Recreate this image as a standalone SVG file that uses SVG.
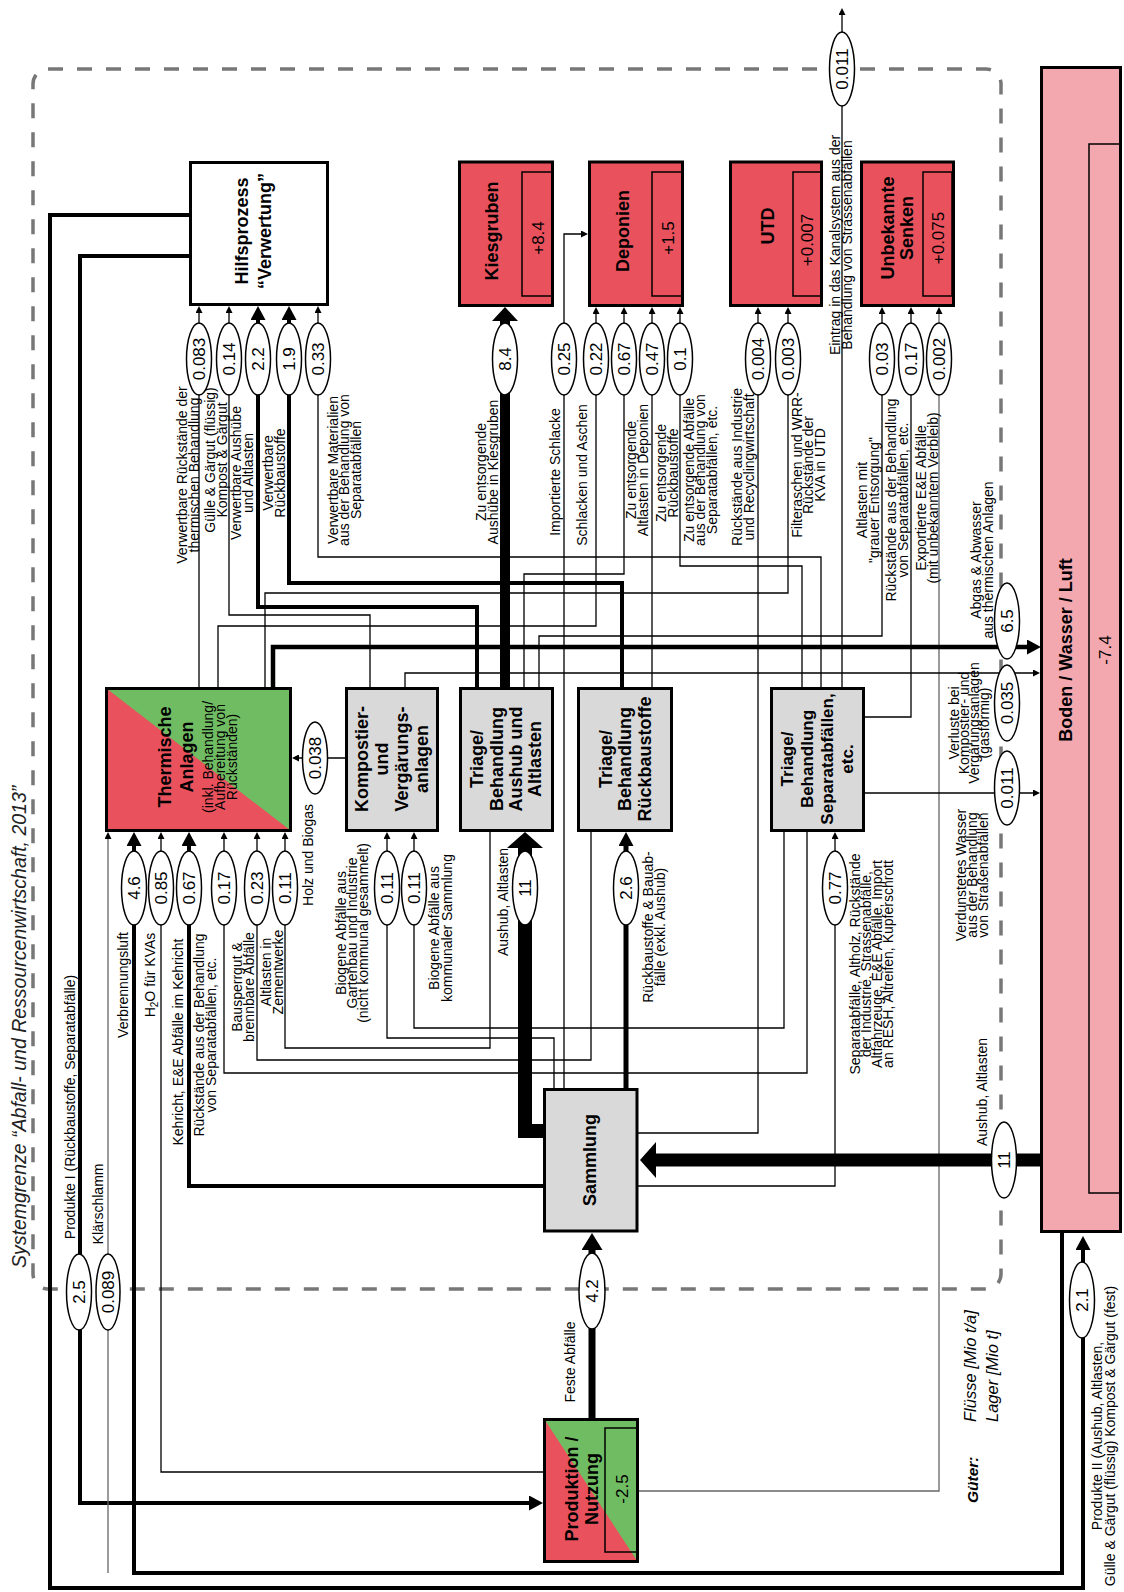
<svg xmlns="http://www.w3.org/2000/svg" width="1124" height="1592" viewBox="0 0 1124 1592">
<style>
text,tspan{font-family:"Liberation Sans",Arial,sans-serif;dominant-baseline:central}
.lb{font-size:14px;text-anchor:middle}
.nv{font-size:17px;text-anchor:middle}
.nd{font-size:18px;font-weight:bold;text-anchor:middle}
.it{font-style:italic;font-size:16.5px}
.t{stroke:#000;stroke-width:1.3;fill:none}
.tg{stroke:#666;stroke-width:1.3;fill:none}
.m{stroke:#000;stroke-width:4;fill:none}
.box{stroke:#000;stroke-width:3}
.inner{fill:none;stroke:#000;stroke-width:1.5}
.red{fill:#E9525D}
.grn{fill:#70BC63}
.gry{fill:#D9D9D9}
.pink{fill:#F3A7AE}
.fv ellipse{fill:#fff;stroke:#000;stroke-width:1.5}
</style>
<defs>
<marker id="as" markerUnits="userSpaceOnUse" markerWidth="7" markerHeight="7" refX="0" refY="3.5" orient="auto"><path d="M0,0L7,3.5L0,7z"/></marker>
<marker id="am" markerUnits="userSpaceOnUse" markerWidth="14" markerHeight="15" refX="0" refY="7.5" orient="auto"><path d="M0,0L14,7.5L0,15z"/></marker>
<marker id="a42" markerUnits="userSpaceOnUse" markerWidth="17" markerHeight="21" refX="0" refY="10.5" orient="auto"><path d="M0,0L17,10.5L0,21z"/></marker>
<marker id="al" markerUnits="userSpaceOnUse" markerWidth="14" markerHeight="26" refX="0" refY="13" orient="auto"><path d="M0,0L14,13L0,26z"/></marker>
<marker id="ax" markerUnits="userSpaceOnUse" markerWidth="16" markerHeight="36" refX="0" refY="18" orient="auto"><path d="M0,0L16,18L0,36z"/></marker>
</defs>
<rect width="1124" height="1592" fill="#fff"/>
<rect id="systemgrenze" x="33" y="69" width="968" height="1220" rx="15" fill="none" stroke="#777" stroke-width="3.5" stroke-dasharray="15 14"/>
<text fill="#222" transform="translate(19,1268) rotate(-90)" style="font-style:italic;font-size:19.5px">Systemgrenze “Abfall- und Ressourcenwirtschaft, 2013”</text>

<g id="connectors">
<path class="m" d="M189,215H50V1588H1083V1250" marker-end="url(#am)"/>
<path class="m" d="M189,256H80V1503H529" marker-end="url(#am)"/>
<path class="t" d="M199,687V313" marker-end="url(#as)"/>
<path class="t" d="M370,687V615H229V313" marker-end="url(#as)"/>
<path class="m" d="M477,687V607H258V320" marker-end="url(#am)"/>
<path class="m" d="M622,687V583H289V320" marker-end="url(#am)"/>
<path class="t" d="M821,687V557H318V313" marker-end="url(#as)"/>
<path d="M505,687V321" stroke="#000" stroke-width="10" fill="none" marker-end="url(#al)"/>
<path class="t" d="M564,1088V234H581" marker-end="url(#as)"/>
<path class="t" d="M218,687V626H596V314" marker-end="url(#as)"/>
<path class="t" d="M524,687V574H624V314" marker-end="url(#as)"/>
<path class="t" d="M652,687V314" marker-end="url(#as)"/>
<path class="t" d="M802,687V566H680V314" marker-end="url(#as)"/>
<path class="t" d="M638,1133H758V314" marker-end="url(#as)"/>
<path class="t" d="M265,687V593H788V314" marker-end="url(#as)"/>
<path class="t" d="M539,687V636H882V314" marker-end="url(#as)"/>
<path class="t" d="M865,717H911V314" marker-end="url(#as)"/>
<path class="tg" d="M639,1491H939V314" marker-end="url(#as)"/>
<path class="t" d="M842,687V15" marker-end="url(#as)"/>
<path d="M273,687V647H1027" stroke="#000" stroke-width="4.5" fill="none" marker-end="url(#am)"/>
<path class="t" d="M405,687V673H1033" marker-end="url(#as)"/>
<path class="t" d="M865,793H1033" marker-end="url(#as)"/>
<path d="M1040,1160H656" stroke="#000" stroke-width="13" fill="none" marker-end="url(#ax)"/>
<path d="M592,1418V1250" stroke="#000" stroke-width="7" fill="none" marker-end="url(#a42)"/>
<path d="M543,1131H525V848" stroke="#000" stroke-width="14" fill="none" marker-end="url(#ax)"/>
<path d="M626,1088V846" stroke="#000" stroke-width="5" fill="none" marker-end="url(#am)"/>
<path class="m" d="M543,1186H189V846" marker-end="url(#am)"/>
<path class="t" d="M638,1186H835V839" marker-end="url(#as)"/>
<path class="t" d="M554,1088V1038H387V839" marker-end="url(#as)"/>
<path class="t" d="M784,832V1028H414V839" marker-end="url(#as)"/>
<path class="m" d="M1062,1233V1573H134V846" marker-end="url(#am)"/>
<path class="t" d="M543,1472H161V839" marker-end="url(#as)"/>
<path class="t" d="M807,832V1073H224V839" marker-end="url(#as)"/>
<path class="t" d="M591,832V1060H257V839" marker-end="url(#as)"/>
<path class="t" d="M490,832V1048H285V839" marker-end="url(#as)"/>
<path class="tg" d="M108,1573V839" marker-end="url(#as)"/>
<path class="t" d="M345,758H299" marker-end="url(#as)"/>
</g>

<g id="hilfsprozess">
<rect class="box" x="190.5" y="162.5" width="137" height="142" fill="#fff"/>
<text class="nd" transform="translate(253,231) rotate(-90)"><tspan x="0" y="-11">Hilfsprozess</tspan><tspan x="0" y="12">“Verwertung”</tspan></text>
</g>
<g id="kiesgruben">
<rect class="box red" x="459.5" y="162" width="93" height="143.5"/>
<rect class="inner" x="522" y="172" width="30.5" height="124"/>
<text class="nd" transform="translate(492,231) rotate(-90)">Kiesgruben</text>
<text class="nv" transform="translate(538,238) rotate(-90)">+8.4</text>
</g>
<g id="deponien">
<rect class="box red" x="589.5" y="162" width="93" height="143.5"/>
<rect class="inner" x="652" y="172" width="30.5" height="124"/>
<text class="nd" transform="translate(623,231) rotate(-90)">Deponien</text>
<text class="nv" transform="translate(668,238) rotate(-90)">+1.5</text>
</g>
<g id="utd">
<rect class="box red" x="730.5" y="162" width="91" height="143.5"/>
<rect class="inner" x="793" y="172" width="28.5" height="124"/>
<text class="nd" transform="translate(768,226) rotate(-90)">UTD</text>
<text class="nv" transform="translate(807,240) rotate(-90)">+0.007</text>
</g>
<g id="unbekannte-senken">
<rect class="box red" x="861.5" y="162" width="92" height="143.5"/>
<rect class="inner" x="923" y="172" width="29" height="124"/>
<text class="nd" transform="translate(897,228) rotate(-90)"><tspan x="0" y="-9.5">Unbekannte</tspan><tspan x="0" y="9.5">Senken</tspan></text>
<text class="nv" transform="translate(938,238) rotate(-90)">+0.075</text>
</g>
<g id="boden-wasser-luft">
<rect class="box pink" x="1041.5" y="67.5" width="79" height="1164"/>
<rect class="inner" x="1089" y="144" width="31.5" height="1049"/>
<text class="nd" transform="translate(1066,650) rotate(-90)">Boden / Wasser / Luft</text>
<text class="nv" transform="translate(1105,650) rotate(-90)">-7.4</text>
</g>
<g id="thermische-anlagen">
<rect class="grn" x="106.5" y="688.5" width="184" height="142"/>
<path class="red" d="M106.5,688.5V830.5H290.5z"/>
<rect class="box" x="106.5" y="688.5" width="184" height="142" fill="none"/>
<text class="nd" transform="translate(198,757) rotate(-90)"><tspan x="0" y="-33">Thermische</tspan><tspan x="0" y="-11">Anlagen</tspan><tspan x="0" y="10" style="font-weight:normal;font-size:14px">(inkl. Behandlung/</tspan><tspan x="0" y="22" style="font-weight:normal;font-size:14px">Aufbereitung von</tspan><tspan x="0" y="34" style="font-weight:normal;font-size:14px">Rückständen)</tspan></text>
</g>
<g id="kompostier-vergaerungsanlagen">
<rect class="box gry" x="346.5" y="688.5" width="91" height="142"/>
<text class="nd" transform="translate(392,759) rotate(-90)"><tspan x="0" y="-30">Kompostier-</tspan><tspan x="0" y="-10">und</tspan><tspan x="0" y="10">Vergärungs-</tspan><tspan x="0" y="30">anlagen</tspan></text>
</g>
<g id="triage-aushub">
<rect class="box gry" x="460.5" y="688.5" width="92" height="142"/>
<text class="nd" transform="translate(506,759) rotate(-90)"><tspan x="0" y="-29">Triage/</tspan><tspan x="0" y="-9.5">Behandlung</tspan><tspan x="0" y="9.5">Aushub und</tspan><tspan x="0" y="29">Altlasten</tspan></text>
</g>
<g id="triage-rueckbaustoffe">
<rect class="box gry" x="578.5" y="688.5" width="93" height="142"/>
<text class="nd" transform="translate(625,759) rotate(-90)"><tspan x="0" y="-19.5">Triage/</tspan><tspan x="0" y="0">Behandlung</tspan><tspan x="0" y="19.5">Rückbaustoffe</tspan></text>
</g>
<g id="triage-separatabfaelle">
<rect class="box gry" x="771.5" y="688.5" width="92" height="142"/>
<text class="nd" transform="translate(817,759) rotate(-90)" style="font-size:17px"><tspan x="0" y="-30">Triage/</tspan><tspan x="0" y="-10">Behandlung</tspan><tspan x="0" y="10">Separatabfällen,</tspan><tspan x="0" y="30">etc.</tspan></text>
</g>
<g id="sammlung">
<rect class="box gry" x="544.5" y="1089.5" width="92.5" height="141.5"/>
<text class="nd" transform="translate(590,1160) rotate(-90)">Sammlung</text>
</g>
<g id="produktion-nutzung">
<rect class="grn" x="544.5" y="1419.5" width="93" height="142"/>
<path class="red" d="M544.5,1419.5V1561.5H637.5z"/>
<rect class="box" x="544.5" y="1419.5" width="93" height="142" fill="none"/>
<rect class="inner" x="605" y="1428" width="32" height="124"/>
<text class="nd" transform="translate(582,1489) rotate(-90)"><tspan x="0" y="-10">Produktion /</tspan><tspan x="0" y="10">Nutzung</tspan></text>
<text class="nv" transform="translate(622,1489) rotate(-90)">-2.5</text>
</g>

<g id="flow-values" class="fv">
<ellipse cx="199" cy="359" rx="12.5" ry="36"/><text class="nv" transform="translate(199,359) rotate(-90)">0.083</text>
<ellipse cx="229" cy="359" rx="12.5" ry="36"/><text class="nv" transform="translate(229,359) rotate(-90)">0.14</text>
<ellipse cx="258" cy="359" rx="12.5" ry="36"/><text class="nv" transform="translate(258,359) rotate(-90)">2.2</text>
<ellipse cx="289" cy="359" rx="12.5" ry="36"/><text class="nv" transform="translate(289,359) rotate(-90)">1.9</text>
<ellipse cx="318" cy="359" rx="12.5" ry="36"/><text class="nv" transform="translate(318,359) rotate(-90)">0.33</text>
<ellipse cx="505" cy="359" rx="12.5" ry="36"/><text class="nv" transform="translate(505,359) rotate(-90)">8.4</text>
<ellipse cx="564" cy="359" rx="12.5" ry="36"/><text class="nv" transform="translate(564,359) rotate(-90)">0.25</text>
<ellipse cx="596" cy="359" rx="12.5" ry="36"/><text class="nv" transform="translate(596,359) rotate(-90)">0.22</text>
<ellipse cx="624" cy="359" rx="12.5" ry="36"/><text class="nv" transform="translate(624,359) rotate(-90)">0.67</text>
<ellipse cx="652" cy="359" rx="12.5" ry="36"/><text class="nv" transform="translate(652,359) rotate(-90)">0.47</text>
<ellipse cx="680" cy="359" rx="12.5" ry="36"/><text class="nv" transform="translate(680,359) rotate(-90)">0.1</text>
<ellipse cx="758" cy="359" rx="12.5" ry="36"/><text class="nv" transform="translate(758,359) rotate(-90)">0.004</text>
<ellipse cx="788" cy="359" rx="12.5" ry="36"/><text class="nv" transform="translate(788,359) rotate(-90)">0.003</text>
<ellipse cx="882" cy="359" rx="12.5" ry="36"/><text class="nv" transform="translate(882,359) rotate(-90)">0.03</text>
<ellipse cx="911" cy="359" rx="12.5" ry="36"/><text class="nv" transform="translate(911,359) rotate(-90)">0.17</text>
<ellipse cx="939" cy="359" rx="12.5" ry="36"/><text class="nv" transform="translate(939,359) rotate(-90)">0.002</text>
<ellipse cx="842" cy="69" rx="12.5" ry="37"/><text class="nv" transform="translate(842,69) rotate(-90)">0.011</text>
<ellipse cx="134" cy="888" rx="12.5" ry="37"/><text class="nv" transform="translate(134,888) rotate(-90)">4.6</text>
<ellipse cx="161" cy="888" rx="12.5" ry="37"/><text class="nv" transform="translate(161,888) rotate(-90)">0.85</text>
<ellipse cx="189" cy="888" rx="12.5" ry="37"/><text class="nv" transform="translate(189,888) rotate(-90)">0.67</text>
<ellipse cx="224" cy="888" rx="12.5" ry="37"/><text class="nv" transform="translate(224,888) rotate(-90)">0.17</text>
<ellipse cx="257" cy="888" rx="12.5" ry="37"/><text class="nv" transform="translate(257,888) rotate(-90)">0.23</text>
<ellipse cx="285" cy="888" rx="12.5" ry="37"/><text class="nv" transform="translate(285,888) rotate(-90)">0.11</text>
<ellipse cx="387" cy="888" rx="12.5" ry="37"/><text class="nv" transform="translate(387,888) rotate(-90)">0.11</text>
<ellipse cx="414" cy="888" rx="12.5" ry="37"/><text class="nv" transform="translate(414,888) rotate(-90)">0.11</text>
<ellipse cx="525" cy="888" rx="12.5" ry="37"/><text class="nv" transform="translate(525,888) rotate(-90)">11</text>
<ellipse cx="626" cy="888" rx="12.5" ry="37"/><text class="nv" transform="translate(626,888) rotate(-90)">2.6</text>
<ellipse cx="835" cy="888" rx="12.5" ry="37"/><text class="nv" transform="translate(835,888) rotate(-90)">0.77</text>
<ellipse cx="315" cy="758" rx="12.5" ry="36"/><text class="nv" transform="translate(315,758) rotate(-90)">0.038</text>
<ellipse cx="1007" cy="621" rx="12.5" ry="38"/><text class="nv" transform="translate(1007,621) rotate(-90)">6.5</text>
<ellipse cx="1007" cy="703" rx="12.5" ry="38"/><text class="nv" transform="translate(1007,703) rotate(-90)">0.035</text>
<ellipse cx="1007" cy="788" rx="12.5" ry="37"/><text class="nv" transform="translate(1007,788) rotate(-90)">0.011</text>
<ellipse cx="1004" cy="1160" rx="12.5" ry="38"/><text class="nv" transform="translate(1004,1160) rotate(-90)">11</text>
<ellipse cx="79" cy="1292" rx="12.5" ry="38"/><text class="nv" transform="translate(79,1292) rotate(-90)">2.5</text>
<ellipse cx="108" cy="1292" rx="12" ry="38"/><text class="nv" transform="translate(108,1292) rotate(-90)">0.089</text>
<ellipse cx="592" cy="1291" rx="13" ry="38"/><text class="nv" transform="translate(592,1291) rotate(-90)">4.2</text>
<ellipse cx="1082" cy="1300" rx="12.5" ry="38"/><text class="nv" transform="translate(1082,1300) rotate(-90)">2.1</text>
</g>

<g id="flow-labels">
<text class="lb" transform="translate(188,475) rotate(-90)"><tspan x="0" y="-5.75">Verwertbare Rückstände der</tspan><tspan x="0" y="5.75">thermischen Behandlung</tspan></text>
<text class="lb" transform="translate(216,460) rotate(-90)"><tspan x="0" y="-5.75">Gülle &amp; Gärgut (flüssig)</tspan><tspan x="0" y="5.75">Kompost &amp; Gärgut</tspan></text>
<text class="lb" transform="translate(242,473) rotate(-90)"><tspan x="0" y="-5.75">Verwertbare Aushübe</tspan><tspan x="0" y="5.75">und Altlasten</tspan></text>
<text class="lb" transform="translate(274,473) rotate(-90)"><tspan x="0" y="-5.75">Verwertbare</tspan><tspan x="0" y="5.75">Rückbaustoffe</tspan></text>
<text class="lb" transform="translate(344,470) rotate(-90)"><tspan x="0" y="-11.5">Verwertbare Materialien</tspan><tspan x="0" y="0">aus der Behandlung von</tspan><tspan x="0" y="11.5">Separatabfällen</tspan></text>
<text class="lb" transform="translate(487,472) rotate(-90)"><tspan x="0" y="-5.75">Zu entsorgende</tspan><tspan x="0" y="5.75">Aushübe in Kiesgruben</tspan></text>
<text class="lb" transform="translate(555,472) rotate(-90)">Importierte Schlacke</text>
<text class="lb" transform="translate(582,475) rotate(-90)">Schlacken und Aschen</text>
<text class="lb" transform="translate(637,470) rotate(-90)"><tspan x="0" y="-5.75">Zu entsorgende</tspan><tspan x="0" y="5.75">Altlasten in Deponien</tspan></text>
<text class="lb" transform="translate(667,473) rotate(-90)"><tspan x="0" y="-5.75">Zu entsorgende</tspan><tspan x="0" y="5.75">Rückbaustoffe</tspan></text>
<text class="lb" transform="translate(700,470) rotate(-90)"><tspan x="0" y="-11.5">Zu entsorgende Abfälle</tspan><tspan x="0" y="0">aus der Behandlung von</tspan><tspan x="0" y="11.5">Separatabfällen, etc.</tspan></text>
<text class="lb" transform="translate(743,467) rotate(-90)"><tspan x="0" y="-5.75">Rückstände aus Industrie</tspan><tspan x="0" y="5.75">und Recyclingwirtschaft</tspan></text>
<text class="lb" transform="translate(808,465) rotate(-90)"><tspan x="0" y="-11.5">Filteraschen und WRR-</tspan><tspan x="0" y="0">Rückstände der</tspan><tspan x="0" y="11.5">KVA in UTD</tspan></text>
<text class="lb" transform="translate(868,500) rotate(-90)"><tspan x="0" y="-5.75">Altlasten mit</tspan><tspan x="0" y="5.75">"grauer Entsorgung"</tspan></text>
<text class="lb" transform="translate(897,500) rotate(-90)"><tspan x="0" y="-5.75">Rückstände aus der Behandlung</tspan><tspan x="0" y="5.75">von Separatabfällen, etc.</tspan></text>
<text class="lb" transform="translate(927,498) rotate(-90)"><tspan x="0" y="-5.75">Exportierte E&amp;E Abfälle</tspan><tspan x="0" y="5.75">(mit unbekanntem Verbleib)</tspan></text>
<text class="lb" transform="translate(982,560) rotate(-90)"><tspan x="0" y="-5.75">Abgas &amp; Abwasser</tspan><tspan x="0" y="5.75">aus thermischen Anlagen</tspan></text>
<text class="lb" transform="translate(969,723) rotate(-90)"><tspan x="0" y="-15">Verluste bei</tspan><tspan x="0" y="-5">Kompostier- und</tspan><tspan x="0" y="5">Vergärungsanlagen</tspan><tspan x="0" y="15">(gasförmig)</tspan></text>
<text class="lb" transform="translate(972,875) rotate(-90)"><tspan x="0" y="-11">Verdunstetes Wasser</tspan><tspan x="0" y="0">aus der Behandlung</tspan><tspan x="0" y="11">von Straßenabfällen</tspan></text>
<text class="lb" transform="translate(841,245) rotate(-90)"><tspan x="0" y="-6">Eintrag in das Kanalsystem aus der</tspan><tspan x="0" y="6">Behandlung von Strassenabfällen</tspan></text>
<text class="lb" transform="translate(308,855) rotate(-90)">Holz und Biogas</text>
<text class="lb" transform="translate(123,985) rotate(-90)">Verbrennungsluft</text>
<text class="lb" transform="translate(150,975) rotate(-90)">H<tspan dy="4" style="font-size:10px">2</tspan><tspan dy="-4">O für KVAs</tspan></text>
<text class="lb" transform="translate(178,1042) rotate(-90)">Kehricht, E&amp;E Abfälle im Kehricht</text>
<text class="lb" transform="translate(205,1035) rotate(-90)"><tspan x="0" y="-5.75">Rückstände aus der Behandlung</tspan><tspan x="0" y="5.75">von Separatabfällen, etc.</tspan></text>
<text class="lb" transform="translate(243,987) rotate(-90)"><tspan x="0" y="-5.75">Bausperrgut &amp;</tspan><tspan x="0" y="5.75">brennbare Abfälle</tspan></text>
<text class="lb" transform="translate(272,972) rotate(-90)"><tspan x="0" y="-5.75">Altlasten in</tspan><tspan x="0" y="5.75">Zementwerke</tspan></text>
<text class="lb" transform="translate(352,933) rotate(-90)"><tspan x="0" y="-11">Biogene Abfälle aus</tspan><tspan x="0" y="0">Gartenbau und Industrie</tspan><tspan x="0" y="11">(nicht kommunal gesammelt)</tspan></text>
<text class="lb" transform="translate(440,928) rotate(-90)"><tspan x="0" y="-6.5">Biogene Abfälle aus</tspan><tspan x="0" y="6.5">kommunaler Sammlung</tspan></text>
<text class="lb" transform="translate(503,902) rotate(-90)">Aushub, Altlasten</text>
<text class="lb" transform="translate(654,927) rotate(-90)"><tspan x="0" y="-6">Rückbaustoffe &amp; Bauab-</tspan><tspan x="0" y="6">fälle (exkl. Aushub)</tspan></text>
<text class="lb" transform="translate(871,964) rotate(-90)"><tspan x="0" y="-16.5">Separatabfälle, Altholz, Rückstände</tspan><tspan x="0" y="-5.5">der Industrie, Strassenabfälle,</tspan><tspan x="0" y="5.5">Altfahrzeuge, E&amp;E Abfälle, Import</tspan><tspan x="0" y="16.5">an RESH, Altreifen, Kupferschrott</tspan></text>
<text class="lb" transform="translate(982,1092) rotate(-90)">Aushub, Altlasten</text>
<text class="lb" transform="translate(570,1362) rotate(-90)">Feste Abfälle</text>
<text class="lb" transform="translate(70,1107) rotate(-90)">Produkte I (Rückbaustoffe, Separatabfälle)</text>
<text class="lb" transform="translate(98,1204) rotate(-90)">Klärschlamm</text>
<text class="lb" transform="translate(1103,1436) rotate(-90)"><tspan x="0" y="-6.5">Produkte II (Aushub, Altlasten,</tspan><tspan x="0" y="6.5">Gülle &amp; Gärgut (flüssig) Kompost &amp; Gärgut (fest)</tspan></text>
</g>

<g id="legend">
<text class="it" transform="translate(972,1503) rotate(-90)" style="font-weight:bold;font-size:15.5px">Güter:</text>
<text class="it" transform="translate(970,1422) rotate(-90)">Flüsse [Mio t/a]</text>
<text class="it" transform="translate(992,1422) rotate(-90)">Lager [Mio t]</text>
</g>
</svg>
